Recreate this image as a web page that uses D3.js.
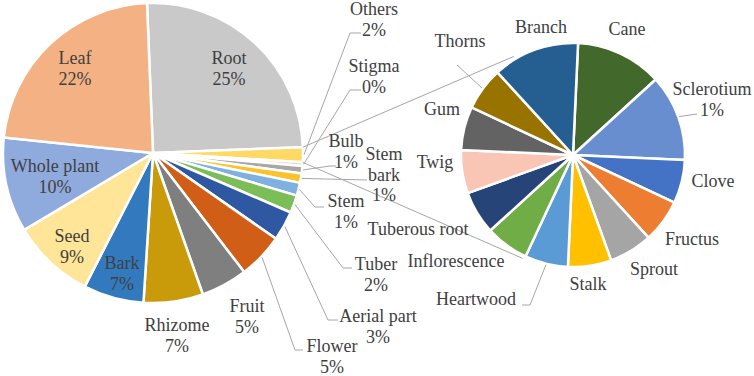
<!DOCTYPE html>
<html>
<head>
<meta charset="utf-8">
<script src="https://cdn.jsdelivr.net/npm/d3@7"></script>
<style>
  html, body { margin: 0; padding: 0; background: #fff; }
</style>
</head>
<body>
<div id="general"></div>
<script>
const w = 754, h = 376;

// main pie, clockwise from the top
const mainNames = ["Root", "Others", "Stigma", "Bulb", "Stem bark", "Stem", "Tuber", "Aerial part",
  "Flower", "Fruit", "Rhizome", "Bark", "Seed", "Whole plant", "Leaf"];
const mainValues = [25, 1.6, 0.4, 0.8, 1.0, 1.4, 1.9, 3.2, 4.9, 5.0, 6.4, 6.5, 8.9, 10.2, 22.7];
const mainPct = ["25%", "2%", "0%", "1%", "1%", "1%", "2%", "3%", "5%", "5%", "7%", "7%", "9%", "10%", "22%"];
const mainColors = ["#c9c9c9", "#ffd966", "#f8cbad", "#a8a8a8", "#fdc22a", "#7fb1e0", "#7bbd57", "#2f58a2",
  "#d05e16", "#7f7f7f", "#c99a0a", "#3279be", "#ffe597", "#8faadc", "#f4b183"];

// breakdown of "Others", clockwise
const subNames = ["Cane", "Sclerotium", "Clove", "Fructus", "Sprout", "Stalk", "Heartwood", "Inflorescence",
  "Tuberous root", "Twig", "Gum", "Thorns", "Branch"];
const subValues = [2, 2, 1, 1, 1, 1, 1, 1, 1, 1, 1, 1, 2];
const subPct = ["", "1%", "", "", "", "", "", "", "", "", "", "", ""];
const subColors = ["#43682b", "#698ed0", "#4472c4", "#ed7d31", "#a5a5a5", "#ffc000", "#5b9bd5", "#70ad47",
  "#264478", "#f9c6b6", "#636363", "#997300", "#255e91"];

// label placement (text centre x, first baseline y) and leader elbows [x, y, endX]
const mainLabelPos = [[229, 64], [374, 15], [374, 72], [346, 147], [384, 160], [346, 207], [376, 270], [378, 322],
  [332, 352], [247, 312], [177, 331], [122, 269], [72, 242], [55, 172], [75, 64]];
const mainLeaders = [null, [350, 33, 361], [350, 90, 361], [330, 166, 336], [367, 180, 367], [315, 207, 324],
  [343, 268, 352], [328, 320, 338], [295, 350, 303], null, null, null, null, null, null];
const subLabelPos = [[627, 35], [712, 95], [713, 187], [692, 245], [654, 275], [588, 290], [476, 305], [456, 267],
  [418, 235], [435, 168], [442, 115], [460, 47], [541, 33]];
const subLeaders = [null, [697, 114, 697], null, null, null, null, [530, 305, 522], null,
  null, null, null, [457, 65, 457], null];

const rad = Math.PI / 180;
const main = {cx: 153, cy: 153, r: 150, start: -2.3};
const sub = {cx: 573, cy: 155, r: 112, start: 2.6};
const connectAngles = [329, 206]; // where the series lines meet the second pie

const svg = d3.select("#general").append("svg")
  .attr("width", w).attr("height", h).attr("viewBox", `0 0 ${w} ${h}`)
  .attr("font-family", "'Liberation Serif', 'DejaVu Serif', serif")
  .attr("font-size", 18);
svg.append("rect").attr("width", w).attr("height", h).attr("fill", "#fff");

const polar = (p, a, r) => [p.cx + r * Math.sin(a), p.cy - r * Math.cos(a)];

function drawPie(p, names, values, colors) {
  const pie = d3.pie().sort(null).value(d => d)
    .startAngle(p.start * rad).endAngle(p.start * rad + 2 * Math.PI);
  const arcs = pie(values);
  const arc = d3.arc().innerRadius(0).outerRadius(p.r);
  svg.append("g").attr("transform", `translate(${p.cx},${p.cy})`)
    .selectAll("path")
    .data(arcs)
    .join("path")
      .attr("d", arc)
      .attr("fill", (d, i) => colors[i])
      .attr("stroke", "#fff")
      .attr("stroke-width", 2.5)
      .attr("stroke-linejoin", "round");
  return arcs;
}

const lineG = svg.append("g");
const mainArcs = drawPie(main, mainNames, mainValues, mainColors);
const subArcs = drawPie(sub, subNames, subValues, subColors);
lineG.raise();

// series lines from the "Others" slice to the second pie
const others = mainArcs[mainNames.indexOf("Others")];
[[others.startAngle, connectAngles[0]], [others.endAngle, connectAngles[1]]].forEach(([a0, a1]) => {
  const p0 = polar(main, a0, main.r);
  const p1 = polar(sub, a1 * rad, sub.r + 3);
  lineG.append("line")
    .attr("x1", p0[0]).attr("y1", p0[1]).attr("x2", p1[0]).attr("y2", p1[1])
    .attr("stroke", "#a6a6a6").attr("stroke-width", 1);
});

function leaders(p, arcs, specs) {
  arcs.forEach((d, i) => {
    const s = specs[i];
    if (!s) return;
    const mid = (d.startAngle + d.endAngle) / 2;
    const p0 = polar(p, mid, p.r + 1);
    lineG.append("polyline")
      .attr("points", [p0, [s[0], s[1]], [s[2], s[1]]].map(q => q.join(",")).join(" "))
      .attr("fill", "none").attr("stroke", "#a6a6a6").attr("stroke-width", 1);
  });
}
leaders(main, mainArcs, mainLeaders);
leaders(sub, subArcs, subLeaders);

function labels(names, pcts, pos) {
  const g = svg.append("g").attr("fill", "#404040");
  names.forEach((n, i) => {
    const lines = (n === "Stem bark" ? ["Stem", "bark"] : [n]).concat(pcts[i] ? [pcts[i]] : []);
    const t = g.append("text").attr("text-anchor", "middle")
      .attr("x", pos[i][0]).attr("y", pos[i][1]);
    lines.forEach((l, k) => t.append("tspan").attr("x", pos[i][0]).attr("dy", k ? 20.5 : 0).text(l));
  });
}
labels(mainNames, mainPct, mainLabelPos);
labels(subNames, subPct, subLabelPos);
</script>
</body>
</html>
